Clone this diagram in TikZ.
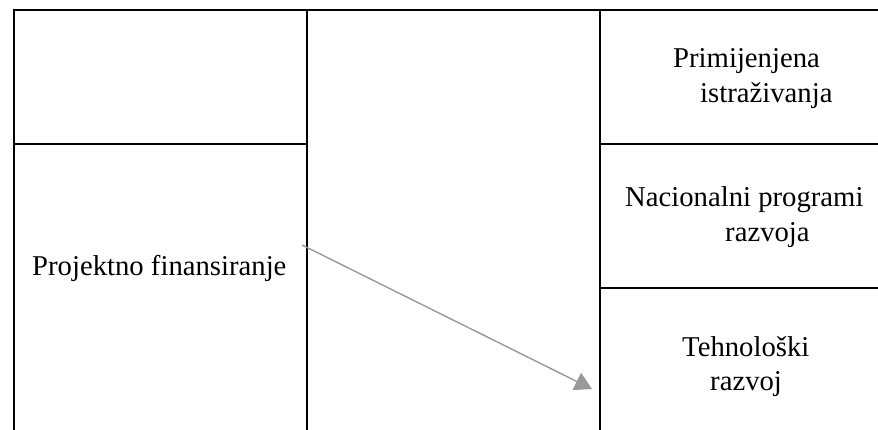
\documentclass[tikz,border=0pt]{standalone}
\usepackage{fontspec}
\setmainfont{Liberation Serif}
\usetikzlibrary{arrows.meta}
\tikzset{
  grid/.style={line width=2.2pt, black, line cap=rect},
  lbl/.style={anchor=base west, inner sep=0pt, font=\fontsize{28.7}{34.5}\selectfont},
  conn/.style={draw=black!40, line width=1.4pt, -{Triangle[length=17pt,width=19pt,fill=black!40]}}
}
\begin{document}
\begin{tikzpicture}[x=1pt,y=-1pt]
\useasboundingbox (0,0) rectangle (878,430);
% grid lines
\draw[grid] (14,10) -- (878,10);
\draw[grid] (14,10) -- (14,431);
\draw[grid] (307,10) -- (307,431);
\draw[grid] (600,10) -- (600,431);
\draw[grid] (14,144) -- (307,144);
\draw[grid] (600,144) -- (878,144);
\draw[grid] (600,288) -- (878,288);
% labels
\node[lbl] (pf) at (32,276) {Projektno finansiranje};
\node[lbl] (pi1) at (673,68) {Primijenjena};
\node[lbl] (pi2) at (700,103) {istraživanja};
\node[lbl] (np1) at (625,207) {Nacionalni programi};
\node[lbl] (np2) at (725,242) {razvoja};
\node[lbl] (tr1) at (682,356) {Tehnološki};
\node[lbl] (tr2) at (710,390) {razvoj};
% connector
\coordinate (as) at (302,245);
\coordinate (ae) at (592,389);
\draw[conn] (as) -- (ae);
\end{tikzpicture}
\end{document}
